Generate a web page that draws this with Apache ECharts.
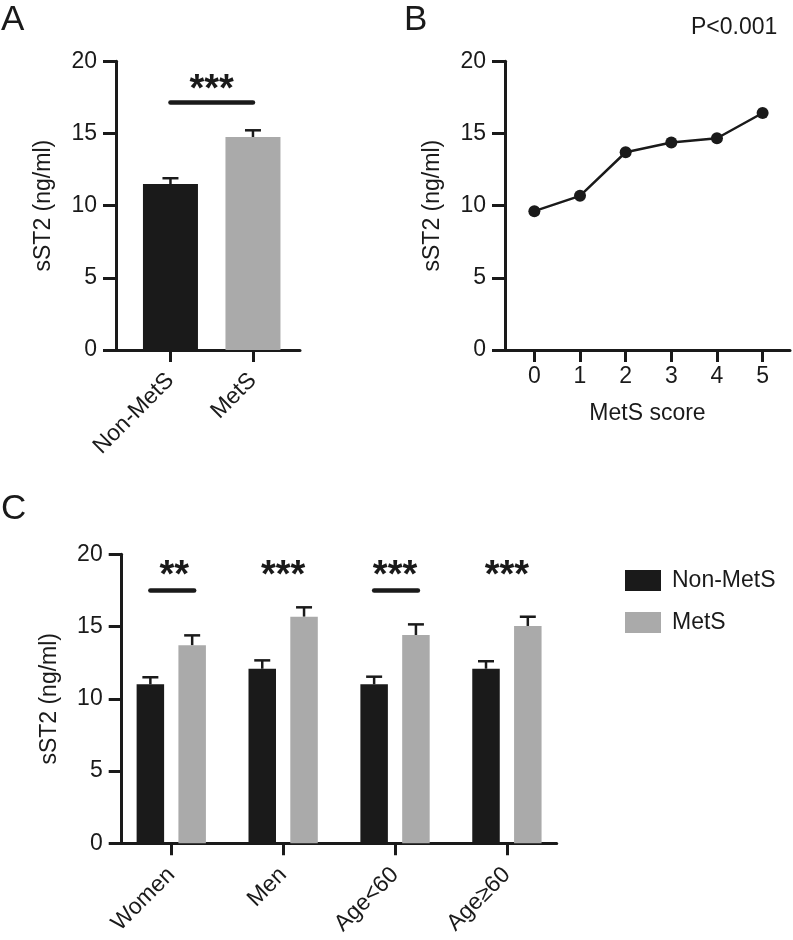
<!DOCTYPE html>
<html><head><meta charset="utf-8">
<script src="https://cdn.jsdelivr.net/npm/echarts@6/dist/echarts.min.js"></script>
<style>html,body{margin:0;padding:0;background:#fff}#c{width:793px;height:940px}</style>
</head><body><div id="c"></div>
<script>
// ---- data ----
const groupsA = ['Non-MetS', 'MetS'];
const meanA = [11.5, 14.75];
const upperA = [11.9, 15.22];
const sigA = { from: 0, to: 1, y: 17.15, text: '***', textY: 17.95 };

const scoresB = [0, 1, 2, 3, 4, 5];
const valuesB = [9.62, 10.68, 13.70, 14.37, 14.67, 16.42];
const pTextB = 'P<0.001';

const groupsC = ['Women', 'Men', 'Age<60', 'Age\u226560'];
const meanCNon = [11.0, 12.08, 11.0, 12.08];
const upperCNon = [11.49, 12.66, 11.53, 12.6];
const meanCMet = [13.7, 15.68, 14.41, 15.04];
const upperCMet = [14.39, 16.33, 15.15, 15.68];
const starsC = ['**', '***', '***', '***'];
const bracketC = [true, false, true, false];
const sigYC = 17.5;
const starYC = 18.45;

const yMin = 0, yMax = 20, yStep = 5;
const yTitle = 'sST2 (ng/ml)';
const xTitleB = 'MetS score';

// ---- style ----
const INK = '#1a1a1a';
const GREY = '#aaaaaa';
const FONT = 'Liberation Sans';
const FS = 23;
const STAR_FONT = 'bold 38px ' + FONT;
const BAR_C = 27.5, GAP_C = 14.3;
const OFF_C = (BAR_C + GAP_C) / 2;

function yAxis(gi) {
  return {
    gridIndex: gi, type: 'value', min: yMin, max: yMax, interval: yStep,
    name: yTitle, nameLocation: 'middle', nameRotate: 90, nameGap: 61,
    nameTextStyle: { fontSize: FS, color: INK, fontFamily: FONT },
    splitLine: { show: false },
    axisLine: { show: true, onZero: false, lineStyle: { color: INK, width: 3 } },
    axisTick: { show: true, length: 13, lineStyle: { color: INK, width: 3 } },
    axisLabel: { fontSize: FS, color: INK, fontFamily: FONT, margin: 19 }
  };
}
function xAxis(gi, min, max, vals, fmt, rotate, margin) {
  return {
    gridIndex: gi, type: 'value', min: min, max: max,
    splitLine: { show: false },
    axisLine: { show: true, onZero: false, lineStyle: { color: INK, width: 3 } },
    axisTick: { show: true, customValues: vals, length: 12, lineStyle: { color: INK, width: 3 } },
    axisLabel: { customValues: vals, formatter: fmt, rotate: rotate, margin: margin,
      fontSize: FS, color: INK, fontFamily: FONT }
  };
}

function errRender(offset) {
  return function (params, api) {
    const x = api.value(0), lo = api.value(1), hi = api.value(2);
    const p0 = api.coord([x, lo]), p1 = api.coord([x, hi]);
    const cx = p0[0] + offset;
    const st = { stroke: INK, lineWidth: 2.5 };
    return { type: 'group', children: [
      { type: 'line', shape: { x1: cx, y1: p0[1], x2: cx, y2: p1[1] }, style: st },
      { type: 'line', shape: { x1: cx - 8, y1: p1[1], x2: cx + 8, y2: p1[1] }, style: st }
    ] };
  };
}

const idxA = groupsA.map((g, i) => i);
const idxC = groupsC.map((g, i) => i);

const option = {
  animation: false,
  backgroundColor: '#fff',
  grid: [
    { left: 116, top: 61.3, width: 184, height: 288.7 },
    { left: 505, top: 61.3, width: 285, height: 288.7 },
    { left: 121.7, top: 554.3, width: 435, height: 289 }
  ],
  xAxis: [
    xAxis(0, -0.66, 1.57, idxA, v => groupsA[v], 45, 27),
    Object.assign(xAxis(1, -0.643, 5.6, scoresB, v => String(v), 0, 15), {
      name: xTitleB, nameLocation: 'middle', nameGap: 52,
      nameTextStyle: { fontSize: FS, color: INK, fontFamily: FONT } }),
    xAxis(2, -0.443, 3.445, idxC, v => groupsC[v], 45, 28)
  ],
  yAxis: [yAxis(0), yAxis(1), yAxis(2)],
  legend: {
    orient: 'vertical', left: 620, top: 564, icon: 'rect',
    itemWidth: 36, itemHeight: 21, itemGap: 19,
    textStyle: { fontSize: FS, color: INK, fontFamily: FONT, padding: [0, 0, 0, 6] },
    data: ['Non-MetS', 'MetS']
  },
  graphic: [
    { type: 'text', left: 1, top: 3, style: { text: 'A', font: '35px ' + FONT, fill: INK } },
    { type: 'text', left: 404, top: 3, style: { text: 'B', font: '35px ' + FONT, fill: INK } },
    { type: 'text', left: 1, top: 492, style: { text: 'C', font: '35px ' + FONT, fill: INK } },
    { type: 'text', left: 691, top: 16, style: { text: pTextB, font: '23px ' + FONT, fill: INK } }
  ],
  series: [
    // Panel A
    { type: 'custom', xAxisIndex: 0, yAxisIndex: 0, z: 1,
      renderItem: errRender(0), encode: { x: 0, y: [1, 2] },
      data: idxA.map(i => [i, meanA[i], upperA[i]]) },
    { type: 'bar', name: 'A', xAxisIndex: 0, yAxisIndex: 0, barWidth: 55, z: 2,
      data: idxA.map(i => ({ value: [i, meanA[i]], itemStyle: { color: i === 0 ? INK : GREY } })) },
    { type: 'line', xAxisIndex: 0, yAxisIndex: 0, symbol: 'none', z: 3,
      lineStyle: { color: INK, width: 4.5, cap: 'round' },
      data: [[sigA.from, sigA.y], [sigA.to, sigA.y]] },
    { type: 'custom', xAxisIndex: 0, yAxisIndex: 0, z: 3,
      renderItem: function (params, api) {
        const p = api.coord([api.value(0), api.value(1)]);
        return { type: 'text', style: { text: sigA.text, x: p[0], y: p[1], align: 'center',
          verticalAlign: 'middle', font: STAR_FONT, fill: INK } };
      },
      data: [[(sigA.from + sigA.to) / 2, sigA.textY]] },
    // Panel B
    { type: 'line', name: 'B', xAxisIndex: 1, yAxisIndex: 1, symbol: 'circle', symbolSize: 12,
      lineStyle: { color: INK, width: 2.5 }, itemStyle: { color: INK },
      data: scoresB.map((s, i) => [s, valuesB[i]]) },
    // Panel C
    { type: 'custom', xAxisIndex: 2, yAxisIndex: 2, z: 1,
      renderItem: errRender(-OFF_C), encode: { x: 0, y: [1, 2] },
      data: idxC.map(i => [i, meanCNon[i], upperCNon[i]]) },
    { type: 'custom', xAxisIndex: 2, yAxisIndex: 2, z: 1,
      renderItem: errRender(OFF_C), encode: { x: 0, y: [1, 2] },
      data: idxC.map(i => [i, meanCMet[i], upperCMet[i]]) },
    { type: 'bar', name: 'Non-MetS', xAxisIndex: 2, yAxisIndex: 2, barWidth: BAR_C,
      barGap: (GAP_C / BAR_C * 100) + '%', z: 2, itemStyle: { color: INK },
      data: idxC.map(i => [i, meanCNon[i]]) },
    { type: 'bar', name: 'MetS', xAxisIndex: 2, yAxisIndex: 2, barWidth: BAR_C,
      barGap: (GAP_C / BAR_C * 100) + '%', z: 2, itemStyle: { color: GREY },
      data: idxC.map(i => [i, meanCMet[i]]) },
    { type: 'custom', xAxisIndex: 2, yAxisIndex: 2, z: 3,
      renderItem: function (params, api) {
        const i = api.value(0);
        const p = api.coord([i, sigYC]);
        const q = api.coord([i, starYC]);
        const children = [{ type: 'text', style: { text: starsC[i], x: q[0] + (i === 0 ? 3 : 0), y: q[1], align: 'center',
          verticalAlign: 'middle', font: STAR_FONT, fill: INK } }];
        if (bracketC[i]) children.push({ type: 'line',
          shape: { x1: p[0] - OFF_C, y1: p[1], x2: p[0] + OFF_C + 2, y2: p[1] },
          style: { stroke: INK, lineWidth: 4.5, lineCap: 'round' } });
        return { type: 'group', children: children };
      },
      data: idxC.map(i => [i]) }
  ]
};

const chart = echarts.init(document.getElementById('c'), null, { renderer: 'canvas' });
chart.setOption(option);
</script>
</body></html>
